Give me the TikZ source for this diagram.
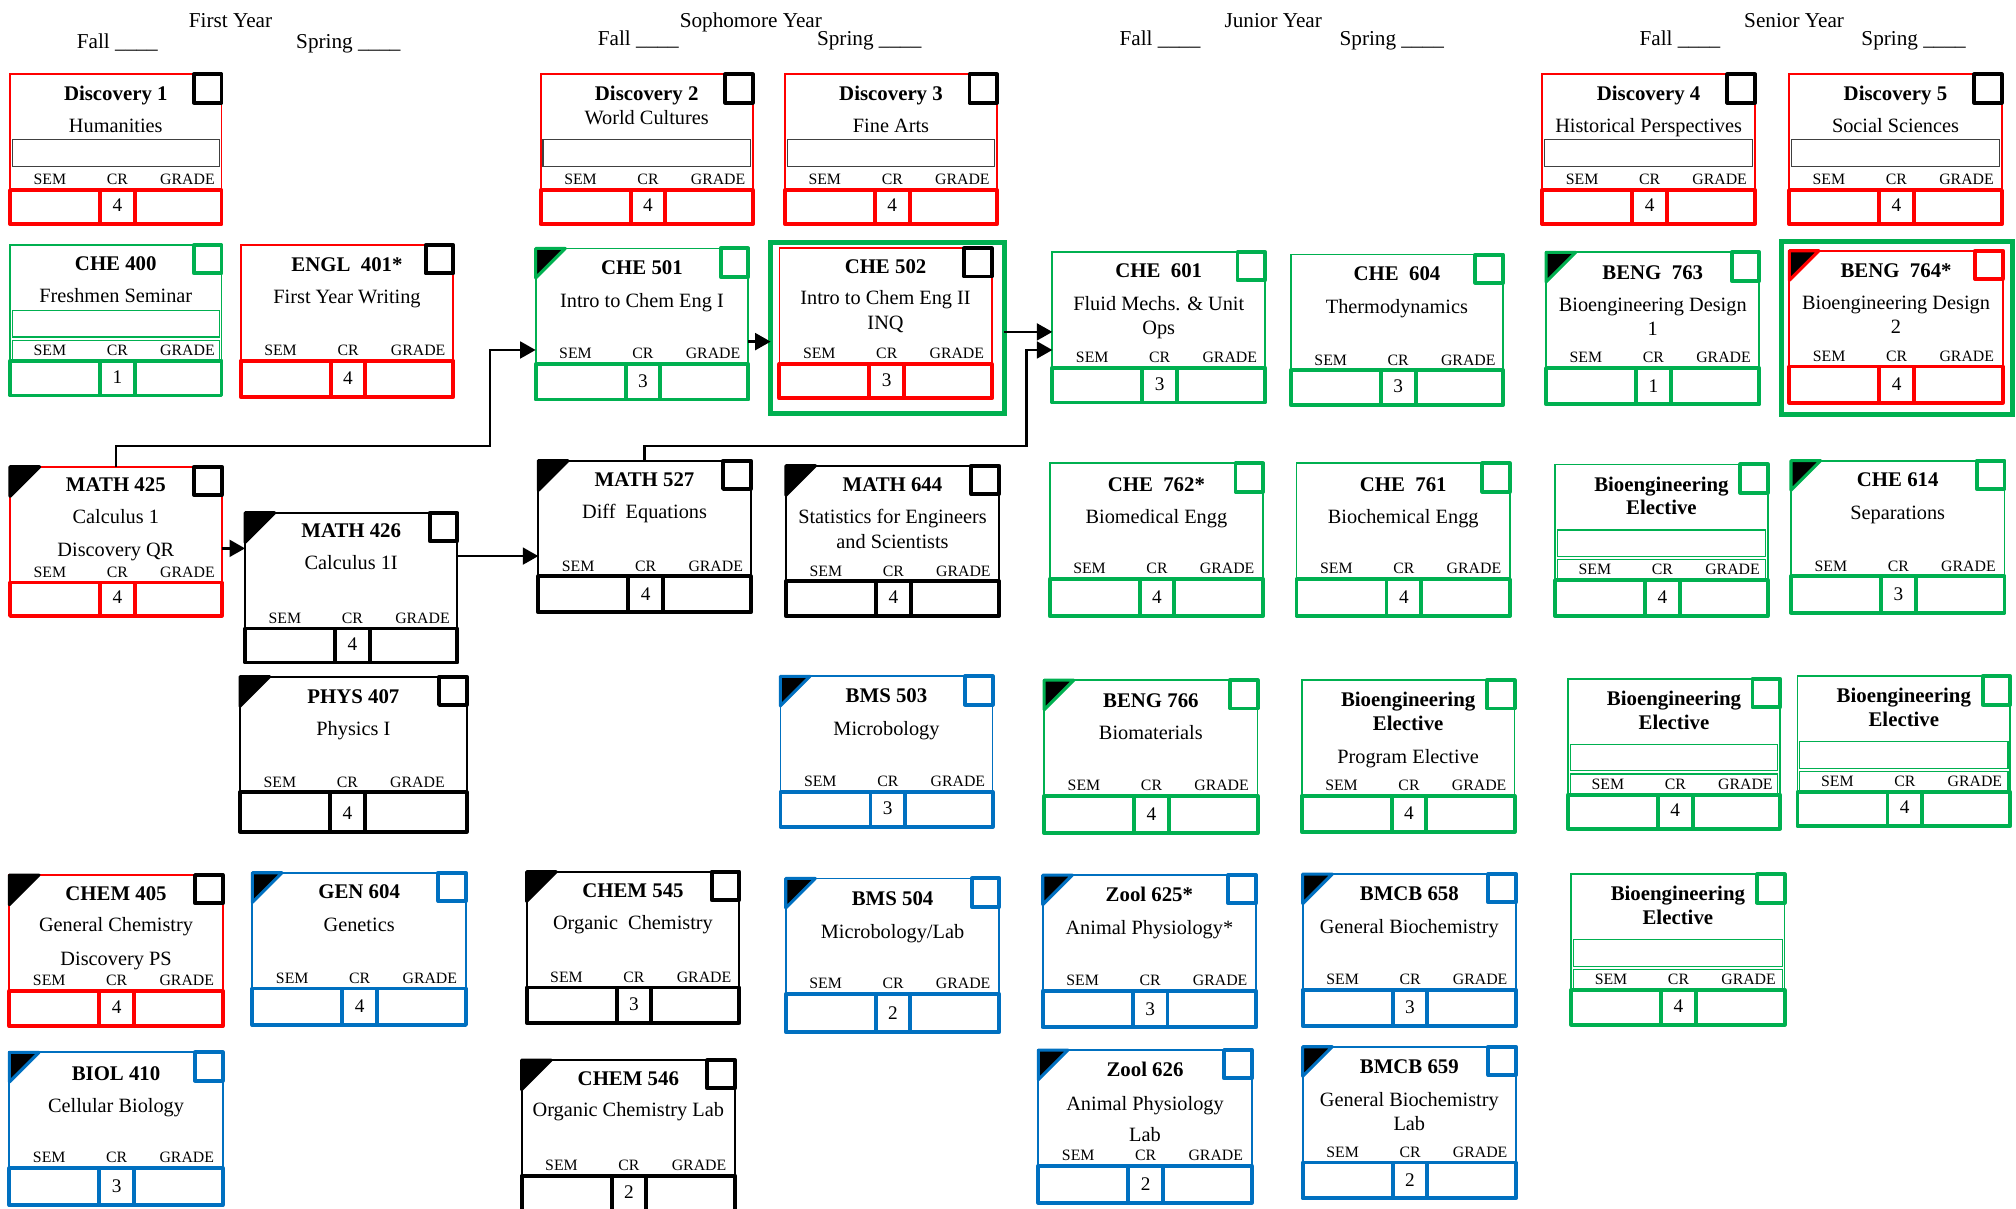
\documentclass[tikz,border=0pt]{standalone}
\usepackage{fontspec}
\setmainfont{Liberation Serif}
\usetikzlibrary{arrows.meta}
\definecolor{cred}{RGB}{255,0,0}
\definecolor{cgreen}{RGB}{0,176,80}
\definecolor{cblue}{RGB}{0,112,192}
\definecolor{cgray}{RGB}{64,64,64}
\tikzset{
 cbox/.style={rectangle, draw=none, inner sep=0pt, outer sep=0pt, anchor=north west},
 thinframe/.style={line width=1.4pt},
 thickrow/.style={line width=3pt, line join=round},
 chkbox/.style={line width=3pt, fill=white, line join=round},
 ctitle/.style={font=\bfseries\fontsize{16.2}{19}\selectfont, anchor=base, inner sep=0pt},
 csub/.style={font=\fontsize{15.8}{19}\selectfont, anchor=base, inner sep=0pt},
 clab/.style={font=\fontsize{12.3}{14}\selectfont, anchor=base, inner sep=0pt},
 cnum/.style={font=\fontsize{15}{18}\selectfont, anchor=base, inner sep=0pt},
 hdr/.style={font=\fontsize{16.5}{19}\selectfont, anchor=base, inner sep=0pt},
 hdrw/.style={hdr, anchor=base west},
 conn/.style={line width=2pt, -{Triangle[length=12pt,width=13pt]}},
 outerframe/.style={draw=cgreen, line width=3.6pt, rectangle, inner sep=0pt, outer sep=0pt, anchor=north west},
 tri/.style={fill=black, line width=2.4pt, line join=round},
 blankrow/.style={line width=0.9pt},
}
% #1 name, #2 x, #3 y, #4 frame colour, #5 checkbox colour, #6 credits, #7 width, #8 height
\newcommand{\Course}[8]{%
 \node[cbox, minimum width=#7pt, minimum height=#8pt] (#1) at (#2,#3) {};
 \begin{scope}[shift={(#1.north west)}]
  \draw[thinframe, draw=#4] (0,0) rectangle (#7,90);
  \draw[thickrow, draw=#4] (0,90) rectangle (#7,#8);
  \draw[thickrow, draw=#4] (70,90) rectangle (97,#8);
  \draw[chkbox, draw=#5] ({#7-21.5},0) rectangle (#7,22);
  \node[clab] (#1-sem) at (31,86) {SEM};
  \node[clab] (#1-cr) at (83.5,86) {CR};
  \node[clab] (#1-gr) at (138,86) {GRADE};
  \node[cnum] (#1-n) at (83.5,{#8-9.5}) {#6};
 \end{scope}}
\newcommand{\CTri}[2]{\filldraw[tri, draw=#2] (#1.north west) -- ++(23,0) -- ++(-23,23) -- cycle;}
\newcommand{\CBlank}[2]{\draw[blankrow, draw=#2] ([shift={(1.8,51)}]#1.north west) rectangle ([shift={(-1.8,71.5)}]#1.north east);}
\newcommand{\CLbox}[2]{\draw[blankrow, draw=#2] ([shift={(1.8,74)}]#1.north west) rectangle ([shift={(-1.8,90)}]#1.north east);}
\newcommand{\CTtl}[4]{\node[ctitle] (#1-#2) at ([yshift=-#3pt]#1.north) {#4};}
\newcommand{\CSub}[4]{\node[csub] (#1-#2) at ([yshift=-#3pt]#1.north) {#4};}
\begin{document}
\begin{tikzpicture}[x=1pt,y=-1pt]
\useasboundingbox (0,0) rectangle (1568,940.3);
\fill[white] (0,0) rectangle (1568,940.3);
% headers
\node[hdr] (y1) at (179.3,21) {First Year};
\node[hdrw] (f1) at (59.6,37.5) {Fall \_\_\_\_};
\node[hdrw] (s1) at (230.2,37.5) {Spring \_\_\_\_};
\node[hdr] (y2) at (584,21) {Sophomore Year};
\node[hdrw] (f2) at (464.8,35) {Fall \_\_\_\_};
\node[hdrw] (s2) at (635.3,35) {Spring \_\_\_\_};
\node[hdr] (y3) at (990.3,21) {Junior Year};
\node[hdrw] (f3) at (870.6,35) {Fall \_\_\_\_};
\node[hdrw] (s3) at (1041.7,35) {Spring \_\_\_\_};
\node[hdr] (y4) at (1395.4,21) {Senior Year};
\node[hdrw] (f4) at (1275,35) {Fall \_\_\_\_};
\node[hdrw] (s4) at (1447.6,35) {Spring \_\_\_\_};
% Row 1: Discovery
\Course{d1}{7.8}{57.8}{cred}{black}{4}{164.5}{116.5}
\CTtl{d1}{a}{20}{Discovery 1}\CSub{d1}{b}{45}{Humanities}\CBlank{d1}{cgray}
\Course{d2}{420.5}{57.8}{cred}{black}{4}{165}{116.5}
\CTtl{d2}{a}{20}{Discovery 2}\CSub{d2}{b}{39}{World Cultures}\CBlank{d2}{cgray}
\Course{d3}{610.5}{57.8}{cred}{black}{4}{165}{116.5}
\CTtl{d3}{a}{20}{Discovery 3}\CSub{d3}{b}{45}{Fine Arts}\CBlank{d3}{cgray}
\Course{d4}{1199.5}{57.8}{cred}{black}{4}{165.5}{116.5}
\CTtl{d4}{a}{20}{Discovery 4}\CSub{d4}{b}{45}{Historical Perspectives}\CBlank{d4}{cgray}
\Course{d5}{1391.5}{57.8}{cred}{black}{4}{165.5}{116.5}
\CTtl{d5}{a}{20}{Discovery 5}\CSub{d5}{b}{45}{Social Sciences}\CBlank{d5}{cgray}
% Row 2
\Course{c400}{7.8}{190.6}{cgreen}{cgreen}{1}{164.5}{117}
\CTtl{c400}{a}{20}{CHE 400}\CSub{c400}{b}{45}{Freshmen Seminar}\CBlank{c400}{cgreen}\CLbox{c400}{cgreen}
\Course{e401}{187.2}{190.6}{cred}{black}{4}{165.4}{118}
\CTtl{e401}{a}{20.5}{ENGL~~401*}\CSub{e401}{b}{45.5}{First Year Writing}
\Course{c501}{416.6}{193.2}{cgreen}{cgreen}{3}{165.4}{117.5}\CTri{c501}{cgreen}
\CTtl{c501}{a}{20.5}{CHE 501}\CSub{c501}{b}{46}{Intro to Chem Eng I}
\node[outerframe, minimum width=181.8pt, minimum height=133.3pt] (c502o) at (599.4,188.5) {};
\Course{c502}{606.2}{193.1}{cred}{black}{3}{165.1}{116.7}
\CTtl{c502}{a}{19.5}{CHE 502}\CSub{c502}{b}{44}{Intro to Chem Eng II}\CSub{c502}{c}{63.5}{INQ}
\Course{c601}{818.5}{196}{cgreen}{cgreen}{3}{165.5}{117}
\CTtl{c601}{a}{20}{CHE~~601}\CSub{c601}{b}{45.5}{Fluid Mechs. \& Unit}\CSub{c601}{c}{64.5}{Ops}
\Course{c604}{1004}{198}{cgreen}{cgreen}{3}{165}{117}
\CTtl{c604}{a}{20}{CHE~~604}\CSub{c604}{b}{45.5}{Thermodynamics}
\Course{b763}{1202.5}{196.3}{cgreen}{cgreen}{1}{165.9}{118.2}\CTri{b763}{cgreen}
\CTtl{b763}{a}{21}{BENG~~763}\CSub{b763}{b}{46}{Bioengineering Design}\CSub{b763}{c}{65}{1}
\node[outerframe, minimum width=180pt, minimum height=134.4pt] (b764o) at (1385.5,187.8) {};
\Course{b764}{1391.7}{195}{cred}{cred}{4}{166}{118.2}\CTri{b764}{cred}
\CTtl{b764}{a}{20.7}{BENG~~764*}\CSub{b764}{b}{46}{Bioengineering Design}\CSub{b764}{c}{64.3}{2}
% Row 3
\Course{m425}{7.8}{363}{cred}{black}{4}{164.6}{116}\CTri{m425}{black}
\CTtl{m425}{a}{19.5}{MATH 425}\CSub{m425}{b}{44}{Calculus 1}\CSub{m425}{c}{70}{Discovery QR}
\Course{m426}{190.6}{398.8}{black}{black}{4}{165.1}{116.5}\CTri{m426}{black}
\CTtl{m426}{a}{19.5}{MATH 426}\CSub{m426}{b}{44.5}{Calculus 1I}
\Course{m527}{418.7}{358.3}{black}{black}{4}{165.2}{118}\CTri{m527}{black}
\CTtl{m527}{a}{20.2}{MATH 527}\CSub{m527}{b}{45}{Diff~~Equations}
\Course{m644}{611.3}{362.2}{black}{black}{4}{165.7}{117}\CTri{m644}{black}
\CTtl{m644}{a}{20.3}{MATH 644}\CSub{m644}{b}{44.8}{Statistics for Engineers}\CSub{m644}{c}{64.3}{and Scientists}
\Course{c762}{816.4}{360.4}{cgreen}{cgreen}{4}{166}{118.7}
\CTtl{c762}{a}{21.5}{CHE~~762*}\CSub{c762}{b}{46.5}{Biomedical Engg}
\Course{c761}{1008.4}{360.4}{cgreen}{cgreen}{4}{166}{118.7}
\CTtl{c761}{a}{21.5}{CHE~~761}\CSub{c761}{b}{46.5}{Biochemical Engg}
\Course{be1}{1209.5}{361.2}{cgreen}{cgreen}{4}{165.4}{117.9}
\CTtl{be1}{a}{20.7}{Bioengineering}\CTtl{be1}{b}{39}{Elective}\CBlank{be1}{cgreen}\CLbox{be1}{cgreen}
\Course{c614}{1393}{358.3}{cgreen}{cgreen}{3}{166}{118.2}\CTri{c614}{cgreen}
\CTtl{c614}{a}{20.2}{CHE 614}\CSub{c614}{b}{46}{Separations}
% Row 4
\Course{p407}{186.7}{526.3}{black}{black}{4}{176.3}{120.6}\CTri{p407}{black}
\CTtl{p407}{a}{20.7}{PHYS 407}\CSub{p407}{b}{45.4}{Physics I}
\Course{bm503}{607}{526}{cblue}{cblue}{3}{165}{117}\CTri{bm503}{cblue}
\CTtl{bm503}{a}{20.5}{BMS 503}\CSub{bm503}{b}{46}{Microbology}
\Course{b766}{812.1}{529}{cgreen}{cgreen}{4}{166}{119}\CTri{b766}{cgreen}
\CTtl{b766}{a}{21}{BENG 766}\CSub{b766}{b}{46.5}{Biomaterials}
\Course{be2}{1012.4}{529}{cgreen}{cgreen}{4}{165.6}{118}
\CTtl{be2}{a}{20.7}{Bioengineering}\CTtl{be2}{b}{38.9}{Elective}\CSub{be2}{c}{64.8}{Program Elective}
\Course{be3}{1219.5}{528}{cgreen}{cgreen}{4}{165}{116.5}
\CTtl{be3}{a}{20.7}{Bioengineering}\CTtl{be3}{b}{39}{Elective}\CBlank{be3}{cgreen}\CLbox{be3}{cgreen}
\Course{be4}{1398}{526}{cgreen}{cgreen}{4}{165.5}{116.5}
\CTtl{be4}{a}{20.7}{Bioengineering}\CTtl{be4}{b}{39}{Elective}\CBlank{be4}{cgreen}\CLbox{be4}{cgreen}
% Row 5
\Course{ch405}{7.3}{680.6}{cred}{black}{4}{165.9}{117.4}\CTri{ch405}{black}
\CTtl{ch405}{a}{19.5}{CHEM 405}\CSub{ch405}{b}{44}{General Chemistry}\CSub{ch405}{c}{70}{Discovery PS}
\Course{g604}{196.3}{678.8}{cblue}{cblue}{4}{166.1}{118.4}\CTri{g604}{cblue}
\CTtl{g604}{a}{20}{GEN 604}\CSub{g604}{b}{45.5}{Genetics}
\Course{ch545}{409.6}{678}{black}{black}{3}{165.4}{117.4}\CTri{ch545}{black}
\CTtl{ch545}{a}{20}{CHEM 545}\CSub{ch545}{b}{44.8}{Organic~~Chemistry}
\Course{bm504}{611.1}{683.2}{cblue}{cblue}{2}{166.2}{119.2}\CTri{bm504}{cblue}
\CTtl{bm504}{a}{20.7}{BMS 504}\CSub{bm504}{b}{46.6}{Microbology/Lab}
\Course{z625}{811}{680.6}{cblue}{cblue}{3}{165.9}{118.4}\CTri{z625}{cblue}
\CTtl{z625}{a}{20.7}{Zool 625*}\CSub{z625}{b}{46.6}{Animal Physiology*}
\Course{bc658}{1013.2}{679.8}{cblue}{cblue}{3}{165.9}{118.2}\CTri{bc658}{cblue}
\CTtl{bc658}{a}{20.2}{BMCB 658}\CSub{bc658}{b}{46.1}{General Biochemistry}
\Course{be5}{1222}{680}{cgreen}{cgreen}{4}{166}{117}
\CTtl{be5}{a}{20.7}{Bioengineering}\CTtl{be5}{b}{39}{Elective}\CBlank{be5}{cgreen}\CLbox{be5}{cgreen}
% Row 6
\Course{bi410}{7.3}{818.5}{cblue}{cblue}{3}{165.9}{118.7}\CTri{bi410}{cblue}
\CTtl{bi410}{a}{21.5}{BIOL 410}\CSub{bi410}{b}{47}{Cellular Biology}
\Course{ch546}{405.7}{824.5}{black}{black}{2}{166}{117}\CTri{ch546}{black}
\CTtl{ch546}{a}{19.5}{CHEM 546}\CSub{ch546}{b}{44}{Organic Chemistry Lab}
\Course{z626}{807.6}{816.7}{cblue}{cblue}{2}{165.9}{118.7}\CTri{z626}{cblue}
\CTtl{z626}{a}{20.7}{Zool 626}\CSub{z626}{b}{46.7}{Animal Physiology}\CSub{z626}{c}{71.3}{Lab}
\Course{bc659}{1013.2}{814.1}{cblue}{cblue}{2}{165.9}{117.9}\CTri{bc659}{cblue}
\CTtl{bc659}{a}{20.5}{BMCB 659}\CSub{bc659}{b}{46.7}{General Biochemistry}\CSub{bc659}{c}{64.8}{Lab}
% connectors
\coordinate (j1) at (381.1,347);
\coordinate (j2) at (798.5,347);
\draw[conn] (m425.north) |- (j1) |- ([yshift=-79pt]c501.north west);
\draw[conn] (m527.north) |- (j2) |- ([yshift=-76.2pt]c601.north west);
\coordinate (a1) at ([yshift=-63.5pt]m425.north east);
\draw[conn] (a1) -- (a1 -| m426.west);
\coordinate (a2) at ([yshift=-33.7pt]m426.north east);
\draw[conn] (a2) -- (a2 -| m527.west);
\coordinate (a3) at ([yshift=-72.5pt]c501.north east);
\draw[conn] (a3) -- (a3 -| c502o.west);
\coordinate (a4) at ([yshift=-3pt]c502o.east);
\draw[conn] (a4) -- (a4 -| c601.west);
\end{tikzpicture}
\end{document}
